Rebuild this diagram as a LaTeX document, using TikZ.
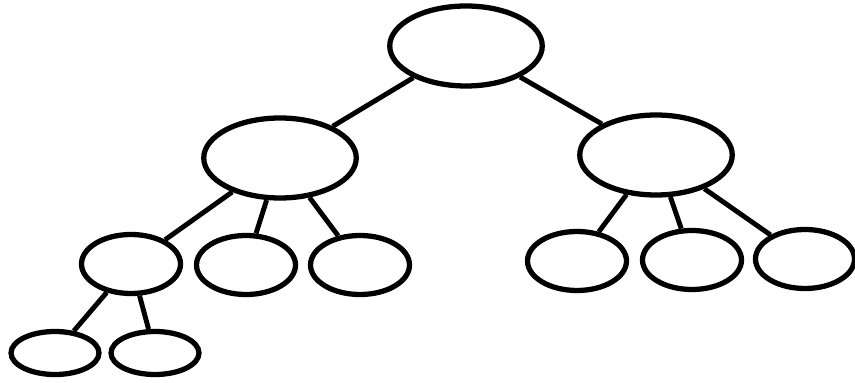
\documentclass[tikz,border=0pt]{standalone}
\usepackage{xcolor}
\usepackage{tikz}
\usetikzlibrary{shapes.geometric}

\begin{document}
\begin{tikzpicture}[
    bignode/.style={draw=black, fill=white, ellipse, line width=3pt, inner sep=0pt,
                    minimum width=3.05cm, minimum height=1.6cm},
    midnode/.style={draw=black, fill=white, ellipse, line width=3pt, inner sep=0pt,
                    minimum width=1.98cm, minimum height=1.18cm},
    leafnode/.style={draw=black, fill=white, ellipse, line width=3pt, inner sep=0pt,
                     minimum width=1.76cm, minimum height=0.86cm},
    edge/.style={line width=2.8pt, draw=black}
]
    \useasboundingbox (0,0) rectangle (17.1,-7.66);

    \node[bignode] (root) at (9.32,-0.92) {};
    \node[bignode] (left) at (5.60,-3.16) {};
    \node[bignode] (right) at (13.12,-3.10) {};

    \node[midnode] (leftA) at (2.62,-5.28) {};
    \node[midnode] (leftB) at (4.92,-5.30) {};
    \node[midnode] (leftC) at (7.20,-5.30) {};
    \node[midnode] (rightA) at (11.54,-5.22) {};
    \node[midnode] (rightB) at (13.84,-5.20) {};
    \node[midnode] (rightC) at (16.10,-5.18) {};

    \node[leafnode] (leafA) at (1.10,-7.06) {};
    \node[leafnode] (leafB) at (3.10,-7.06) {};

    \draw[edge] (root) -- (left);
    \draw[edge] (root) -- (right);
    \draw[edge] (left) -- (leftA);
    \draw[edge] (left) -- (leftB);
    \draw[edge] (left) -- (leftC);
    \draw[edge] (right) -- (rightA);
    \draw[edge] (right) -- (rightB);
    \draw[edge] (right) -- (rightC);
    \draw[edge] (leftA) -- (leafA);
    \draw[edge] (leftA) -- (leafB);
\end{tikzpicture}
\end{document}
